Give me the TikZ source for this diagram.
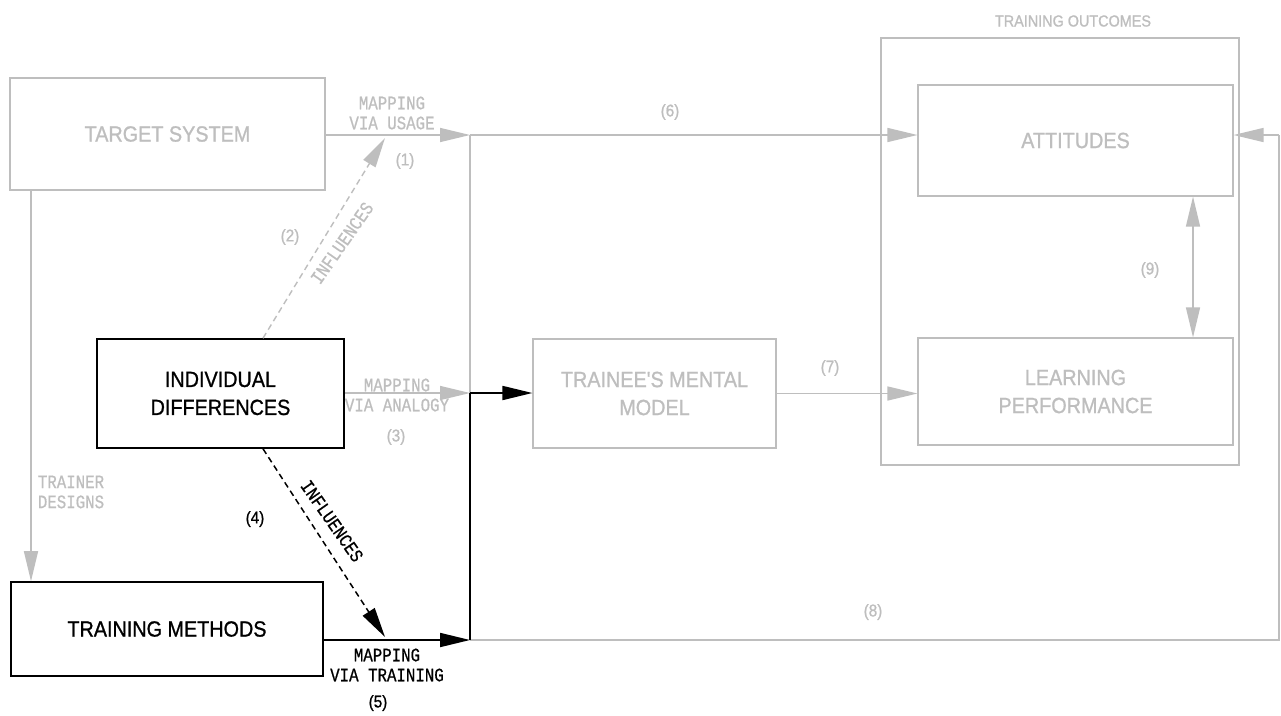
\documentclass[tikz,border=0pt]{standalone}
\usepackage{fontspec}
\usetikzlibrary{arrows.meta}
\newfontfamily\boxfont[FakeStretch=0.9,FakeBold=0.9]{Liberation Sans}
\newfontfamily\plotfont[FakeStretch=0.83,FakeBold=0.6]{Liberation Mono}
\definecolor{lg}{RGB}{190,190,190}
\begin{document}
\begin{tikzpicture}[x=1pt,y=-1pt,
  box/.style={draw, rectangle, inner sep=0pt, align=center, font=\boxfont\fontsize{22}{28}\selectfont},
  gbox/.style={box, draw=lg, text=lg, line width=1.2pt},
  bbox/.style={box, draw=black, text=black, line width=1.6pt},
  gline/.style={draw=lg, line width=1.4pt},
  bline/.style={draw=black, line width=1.8pt},
  tip/.style={-{Triangle[length=30pt,width=14pt]}},
  dtip/.style={{Triangle[length=30pt,width=14pt]}-{Triangle[length=30pt,width=14pt]}},
  dashline/.style={dash pattern=on 6pt off 4pt},
  plot/.style={font=\plotfont\fontsize{19}{20}\selectfont, align=center, inner sep=0pt},
  num/.style={font=\boxfont\fontsize{17}{19}\selectfont, inner sep=0pt},
  glab/.style={text=lg},
  blab/.style={text=black}]
\useasboundingbox (0,0) rectangle (1281,715);
\fill[white] (0,0) rectangle (1281,715);

% boxes
\node[gbox, minimum width=315pt, minimum height=112pt] (ts) at (167.5,134) {TARGET SYSTEM};
\node[bbox, minimum width=247pt, minimum height=109pt] (id) at (220.5,393.5) {INDIVIDUAL\\DIFFERENCES};
\node[bbox, minimum width=312pt, minimum height=94pt] (tm) at (167,629) {TRAINING METHODS};
\node[gbox, minimum width=243pt, minimum height=109pt] (mm) at (654.5,393.5) {TRAINEE'S MENTAL\\MODEL};
\node[gbox, minimum width=358pt, minimum height=427pt] (out) at (1060,251.5) {};
\node[gbox, minimum width=315pt, minimum height=111pt] (att) at (1075.5,140.5) {ATTITUDES};
\node[gbox, minimum width=315pt, minimum height=107pt] (lp) at (1075.5,391.5) {LEARNING\\PERFORMANCE};
\node[glab, font=\boxfont\fontsize{16}{18}\selectfont, inner sep=0pt] (outl) at (1073,21) {TRAINING OUTCOMES};

% junctions
\coordinate (j1) at (470,135);
\coordinate (j2) at (470,393);
\coordinate (j3) at (470,640);
\coordinate (r1) at (1279,640);
\coordinate (r2) at (1279,135);
\coordinate (c9) at (1193,0);
\coordinate (c31) at (31,0);
\coordinate (d1) at (263,0);
\coordinate (a2) at (385,138);
\coordinate (a5) at (385,637);

% gray connectors
\draw[gline,tip] (ts.east |- j1) -- (j1);
\draw[gline,tip] (j1) -- (att.west |- j1);
\draw[gline] (j1) -- (j2);
\draw[gline,tip] (id.east |- j2) -- (j2);
\draw[gline] (j3) -- (r1) -- (r2);
\draw[gline,tip] (r2) -- (att.east |- r2);
\draw[gline,tip] (mm.east) -- (lp.west |- mm.east);
\draw[gline,dtip] (att.south -| c9) -- (lp.north -| c9);
\draw[gline,tip] (ts.south -| c31) -- (tm.north -| c31);
\draw[gline,tip,dashline] (id.north -| d1) -- (a2);

% black connectors
\draw[bline] (j3) -- (j2);
\draw[bline,tip] (j2) -- (mm.west |- j2);
\draw[bline,tip] (tm.east |- j3) -- (j3);
\draw[bline,tip,dashline,line width=1.5pt] (id.south -| d1) -- (a5);

% labels
\node[plot,glab] (l1) at (392,113) {MAPPING\\VIA USAGE};
\node[plot,glab] (l3) at (397,395) {MAPPING\\VIA ANALOGY};
\node[plot,blab] (l5) at (387,665) {MAPPING\\VIA TRAINING};
\node[plot,glab,align=left] (ltd) at (71,492) {TRAINER\\DESIGNS};
\node[plot,glab,rotate=55] (li2) at (342,243) {INFLUENCES};
\node[plot,blab,rotate=-55] (li4) at (332,521) {INFLUENCES};

\node[num,glab] (n1) at (405,161) {(1)};
\node[num,glab] (n2) at (290,237) {(2)};
\node[num,glab] (n3) at (396,437) {(3)};
\node[num,blab] (n4) at (255,519) {(4)};
\node[num,blab] (n5) at (378,703) {(5)};
\node[num,glab] (n6) at (670,112) {(6)};
\node[num,glab] (n7) at (830,368) {(7)};
\node[num,glab] (n8) at (873,612) {(8)};
\node[num,glab] (n9) at (1150,270) {(9)};
\end{tikzpicture}
\end{document}
